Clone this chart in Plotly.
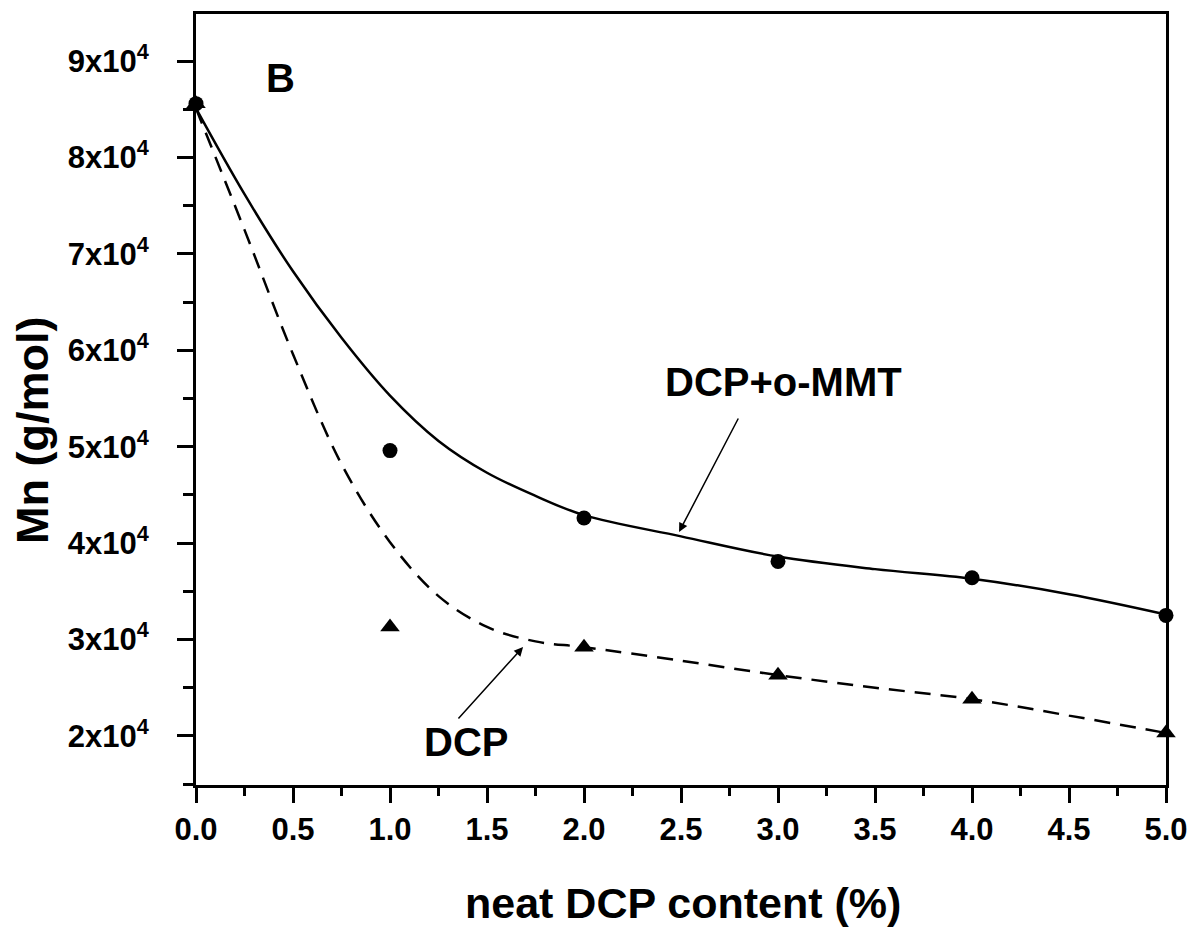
import plotly.graph_objects as go

# measured points
dcp_content = [0, 1, 2, 3, 4, 5]
mn_dcp_mmt = [85600, 49600, 42600, 38100, 36400, 32500]
mn_dcp = [85600, 31300, 29200, 26300, 23800, 20300]

# fitted curves
fit_x = [0, 0.25, 0.5, 0.75, 1.0, 1.25, 1.5, 1.75, 2.0, 2.5, 3.0, 3.5, 4.0, 4.5, 5.0]
fit_mmt = [85100, 76200, 68200, 61300, 55300, 50600, 47300, 44900, 42900, 40700, 38600, 37300, 36300, 34700, 32600]
fit_dcp = [85100, 72500, 59600, 48200, 40100, 34500, 31300, 29800, 29200, 27800, 26300, 25000, 23800, 22100, 20300]

x_ticks = [0, 0.5, 1.0, 1.5, 2.0, 2.5, 3.0, 3.5, 4.0, 4.5, 5.0]
x_ticklabels = ["0.0", "0.5", "1.0", "1.5", "2.0", "2.5", "3.0", "3.5", "4.0", "4.5", "5.0"]
y_ticks = [20000, 30000, 40000, 50000, 60000, 70000, 80000, 90000]
y_ticklabels = [f"{m}x10<sup>4</sup>" for m in [2, 3, 4, 5, 6, 7, 8, 9]]

FONT = "Liberation Sans, Arial, sans-serif"
W, H = 1203, 927
ML, MR, MT, MB = 196, 37, 14, 142

fig = go.Figure()
fig.add_trace(go.Scatter(x=fit_x, y=fit_mmt, mode="lines",
                         line=dict(color="black", width=2.5, shape="spline", smoothing=1.0),
                         showlegend=False, cliponaxis=False))
fig.add_trace(go.Scatter(x=fit_x, y=fit_dcp, mode="lines",
                         line=dict(color="black", width=2.5, dash="16px,10px", shape="spline", smoothing=1.0),
                         showlegend=False, cliponaxis=False))
fig.add_trace(go.Scatter(x=dcp_content, y=mn_dcp, mode="markers",
                         marker=dict(symbol="triangle-up", size=17, color="black"),
                         showlegend=False, cliponaxis=False))
fig.add_trace(go.Scatter(x=dcp_content, y=mn_dcp_mmt, mode="markers",
                         marker=dict(symbol="circle", size=15, color="black"),
                         showlegend=False, cliponaxis=False))

axis_common = dict(showgrid=False, zeroline=False, showline=True, linecolor="black", linewidth=3,
                   mirror=True, ticks="outside", tickcolor="black", tickwidth=3,
                   tickfont=dict(family=FONT, size=31, color="black", weight="bold"))

fig.update_xaxes(range=[0, 5], tickmode="array", tickvals=x_ticks, ticktext=x_ticklabels, ticklen=15,
                 minor=dict(ticks="outside", ticklen=8, tickwidth=3, tickcolor="black", dtick=0.25, tick0=0),
                 **axis_common)
fig.update_yaxes(range=[14900, 94900], tickmode="array", tickvals=y_ticks, ticktext=y_ticklabels, ticklen=16,
                 ticklabelstandoff=22,
                 minor=dict(ticks="outside", ticklen=10, tickwidth=3, tickcolor="black", dtick=5000, tick0=0),
                 **axis_common)

# axis titles placed as paper annotations
fig.add_annotation(xref="paper", yref="paper", x=(683 - ML) / (W - ML - MR), y=(H - MB - 903) / (H - MT - MB),
                   xanchor="center", yanchor="middle",
                   text="<b>neat DCP content (%)</b>", showarrow=False,
                   font=dict(family=FONT, size=43, color="black"))
fig.add_annotation(xref="paper", yref="paper", x=(32 - ML) / (W - ML - MR), y=(H - MB - 431) / (H - MT - MB),
                   xanchor="center", yanchor="middle",
                   text="<b>Mn (g/mol)</b>", textangle=-90, showarrow=False,
                   font=dict(family=FONT, size=45, color="black"))

fig.add_annotation(x=0.433, y=88260, text="<b>B</b>", showarrow=False,
                   font=dict(family=FONT, size=40, color="black"))
fig.add_annotation(x=2.49, y=41150, text="", showarrow=True, arrowhead=2, arrowsize=1.2, arrowwidth=1.5,
                   arrowcolor="black", ax=60, ay=-115)
fig.add_annotation(x=3.03, y=56700, text="<b>DCP+o-MMT</b>", showarrow=False,
                   font=dict(family=FONT, size=40, color="black"))
fig.add_annotation(x=1.686, y=29220, text="", showarrow=True, arrowhead=2, arrowsize=1.2, arrowwidth=1.5,
                   arrowcolor="black", ax=-66, ay=73)
fig.add_annotation(x=1.39, y=19360, text="<b>DCP</b>", showarrow=False,
                   font=dict(family=FONT, size=40, color="black"))

fig.update_layout(width=W, height=H, margin=dict(l=ML, r=MR, t=MT, b=MB),
                  paper_bgcolor="white", plot_bgcolor="white", showlegend=False,
                  font=dict(family=FONT, color="black"))

fig.write_html("out.html")
